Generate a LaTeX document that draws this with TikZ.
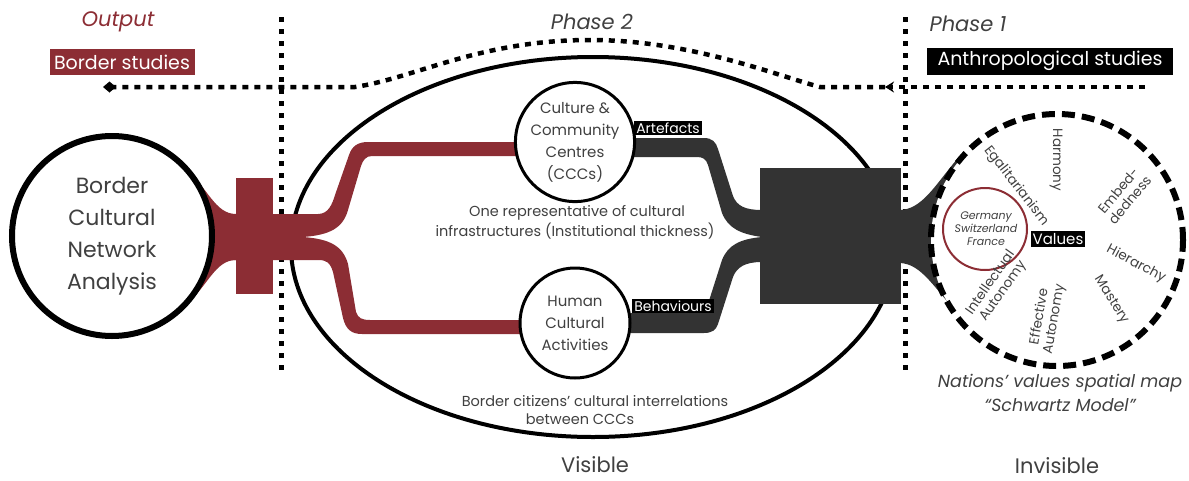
\documentclass[tikz,border=0pt]{standalone}
\usepackage{fontspec}
\setmainfont{Poppins}
\usetikzlibrary{arrows.meta}
\definecolor{bred}{HTML}{8C2D34}
\definecolor{dgray}{HTML}{333333}
\definecolor{tgray}{HTML}{404040}
\newcommand\fsz[2]{\fontsize{#1}{#2}\selectfont}
\begin{document}
\begin{tikzpicture}[x=1pt,y=-1pt,
  vdot/.style={line width=5pt, dash pattern=on 5pt off 7pt},
  hdot/.style={line width=4.5pt, dash pattern=on 6pt off 6pt},
  bigcirc/.style={circle, draw, fill=white, inner sep=0pt, align=center, text=tgray},
  lbl/.style={text=tgray, align=center, inner sep=0pt},
  tag/.style={fill=black, text=white, inner sep=2pt, font=\fsz{14}{16}},
  sch/.style={text=tgray, align=center, inner sep=0pt, font=\fsz{13.5}{15}},
]
\useasboundingbox (0,0) rectangle (1189,480);

% vertical dotted separators
\coordinate (s1t) at (281,17); \coordinate (s1b) at (281,375);
\coordinate (s2t) at (905,17); \coordinate (s2b) at (905,375);
\draw[vdot] (s1t) -- (s1b);
\draw[vdot] (s2t) -- (s2b);

% big ellipse
\draw[line width=4pt] (593,247) ellipse [x radius=302pt, y radius=190pt];

% horizontal dotted line
\coordinate (hR) at (1145,87); \coordinate (hM) at (885,87); \coordinate (hL) at (103,87);
\draw[hdot, -{Stealth[length=9pt,width=11pt]}] (hR) -- (hM);
\draw[hdot, -{Diamond[length=13pt,width=11pt]}] (hM) -- (820,87) .. controls (775,75) and (690,40) .. (590,40) .. controls (480,40) and (415,78) .. (355,87) -- (hL);

% red flow
\fill[bred] (185,168) .. controls (208,188) and (215,214) .. (236,214) -- (236,260) .. controls (215,260) and (208,286) .. (185,306) -- cycle;
\fill[bred] (236,178) rectangle (273,294);
\fill[bred] (230,214) -- (318,214) .. controls (328,214) and (332,205) .. (335,195) -- (349,155) .. controls (352,146) and (358,142) .. (368,142) -- (530,142) -- (530,156) -- (372,156) .. controls (366,156) and (363,160) .. (361,166) -- (348,210) .. controls (343,228) and (330,235) .. (303,237) .. controls (330,239) and (343,246) .. (348,264) -- (356,312) .. controls (358,318) and (362,320) .. (370,320) -- (530,320) -- (530,334) -- (362,334) .. controls (352,334) and (346,330) .. (343,318) -- (333,272) .. controls (330,262) and (326,260) .. (318,260) -- (230,260) -- cycle;

% dark flow
\fill[dgray] (620,138) -- (704,138) .. controls (712,138) and (716,142) .. (718,149) -- (733,196) .. controls (737,206) and (745,210) .. (762,210) -- (762,262) .. controls (745,262) and (737,267) .. (733,277) -- (718,324) .. controls (716,330) and (712,333) .. (704,333) -- (620,333) -- (620,313) -- (700,313) .. controls (704,313) and (706,311) .. (707,307) -- (722,260) .. controls (728,245) and (740,239) .. (762,237) .. controls (740,234) and (728,228) .. (722,213) -- (708,165) .. controls (706,159) and (703,157) .. (697,157) -- (620,157) -- cycle;
\fill[dgray] (760,168) rectangle (901,304);
\fill[dgray] (899,210) .. controls (922,210) and (935,185) .. (958,158) -- (962,318) .. controls (935,290) and (922,263) .. (899,263) -- cycle;

% circles
\node[bigcirc, line width=6pt, minimum size=200pt, font=\fsz{22}{32}] (bcna) at (112,236) {Border\\Cultural\\Network\\Analysis};
\node[bigcirc, line width=3pt, minimum size=110pt, font=\fsz{15}{22}] (ccc) at (575,142) {Culture \&\\Community\\Centres\\(CCCs)};
\node[bigcirc, line width=3pt, minimum size=110pt, font=\fsz{15}{22}] (hca) at (575,323) {Human\\Cultural\\Activities};
\node[circle, draw, fill=white, line width=6pt, dash pattern=on 13pt off 7pt, minimum size=252pt, inner sep=0pt] (schw) at (1057,240) {};

% tags on flows
\node[tag] (art) at (668,128) {Artefacts};
\node[tag] (beh) at (673,306) {Behaviours};

% Schwartz model contents
\draw[bred, line width=2pt] (985,229) ellipse [x radius=42pt, y radius=41pt];
\node[lbl, font=\itshape\fsz{11}{13}] (nat) at (986,229) {Germany\\Switzerland\\France};
\node[tag, font=\fsz{15}{17}] (val) at (1058,239) {Values};
\node[sch, rotate=-90] (harm) at (1056,160) {Harmony};
\node[sch, rotate=-52] (egal) at (1016,186) {Egalitarianism};
\node[sch, rotate=50] (emb) at (1124,195) {Embed-\\dedness};
\node[sch, rotate=-28] (hier) at (1136,264) {Hierarchy};
\node[sch, rotate=-58] (mast) at (1111,300) {Mastery};
\node[sch, rotate=80] (eff) at (1047,318) {Effective\\Autonomy};
\node[sch, rotate=55] (intel) at (997,287) {Intellectual\\Autonomy};

% descriptions
\node[lbl, font=\fsz{14.5}{16}] (d1a) at (577,213) {One representative of cultural};
\node[lbl, font=\fsz{14.5}{16}] (d1b) at (575,231) {infrastructures (Institutional thickness)};
\node[lbl, font=\fsz{14.5}{16}] (d2a) at (595,401) {Border citizens’ cultural interrelations};
\node[lbl, font=\fsz{14.5}{16}] (d2b) at (580,419) {between CCCs};
\node[lbl, font=\itshape\fsz{17.5}{20}] (cap1) at (1060,383) {Nations’ values spatial map};
\node[lbl, font=\itshape\fsz{17.5}{20}] (cap2) at (1060,405) {“Schwartz Model”};

% headers
\node[lbl, font=\itshape\fsz{21}{24}, text=bred] (out) at (118,22) {Output};
\node[lbl, font=\itshape\fsz{21}{24}] (ph2) at (592,22) {Phase 2};
\node[lbl, font=\itshape\fsz{21}{24}] (ph1) at (968,24) {Phase 1};
\node[fill=bred, text=white, font=\fsz{19}{22}, minimum width=145pt, minimum height=26pt, inner sep=0pt] (bs) at (122,62) {Border studies};
\node[fill=black, text=white, font=\fsz{19}{22}, minimum width=246pt, minimum height=27pt, inner sep=0pt] (as) at (1050,61) {Anthropological studies};

% footers
\node[lbl, font=\fsz{21}{24}] (vis) at (595,465) {Visible};
\node[lbl, font=\fsz{21}{24}] (invis) at (1057,466) {Invisible};
\end{tikzpicture}
\end{document}
